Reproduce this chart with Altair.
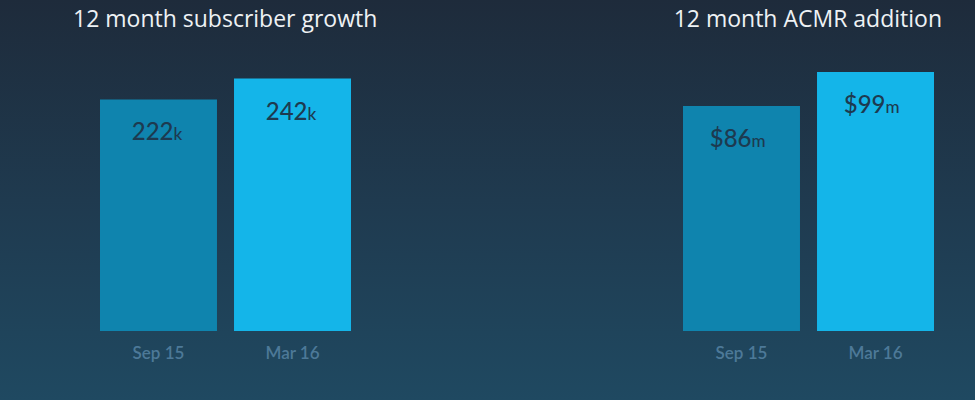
import altair as alt
import pandas as pd

# Periods and the two metrics shown for each
periods = ["Sep 15", "Mar 16"]
subscribers_k = [222, 242]
acmr_m = [86, 99]

BAR_COLORS = ["#0f84ae", "#14b5e9"]
LABEL_INK = "#1d3a50"
AXIS_INK = "#4d7998"
TITLE_INK = "#eef2f5"
FONT = "Lato"

W, H = 975, 400
BASE = 331  # pixel row where the bars sit


def panel(values, prefix, suffix, x_range, y_max, title, title_x, title_align, num_dx):
    df = pd.DataFrame({
        "period": periods,
        "value": values,
        "num": [f"{prefix}{v}" for v in values],
        "unit": [suffix] * len(values),
    })
    base = alt.Chart(df)
    x = alt.X("period:N", sort=periods, axis=None,
              scale=alt.Scale(range=x_range, paddingInner=0.127, paddingOuter=0))
    y = alt.Y("value:Q", axis=None,
              scale=alt.Scale(domain=[0, y_max], range=[BASE, 0], nice=False, zero=True))

    bars = base.mark_bar().encode(
        x=x, y=y,
        color=alt.Color("period:N", sort=periods, legend=None,
                        scale=alt.Scale(domain=periods, range=BAR_COLORS)),
    )
    nums = base.mark_text(font=FONT, fontSize=24, fontWeight=500, color=LABEL_INK,
                          align="right", baseline="alphabetic", dx=num_dx, dy=41).encode(
        x=x, y=y, text="num:N")
    units = base.mark_text(font=FONT, fontSize=17, fontWeight=500, color=LABEL_INK,
                           align="left", baseline="alphabetic", dx=num_dx, dy=41).encode(
        x=x, y=y, text="unit:N")
    ticks = base.mark_text(font=FONT, fontSize=17, fontWeight=600, color=AXIS_INK,
                           baseline="middle").encode(
        x=x, y=alt.value(354), text="period:N")
    heading = alt.Chart(pd.DataFrame({"t": [title]})).mark_text(
        font="Open Sans", fontSize=23, color=TITLE_INK, align=title_align,
        baseline="middle").encode(x=alt.value(title_x), y=alt.value(20), text="t:N")
    return alt.layer(bars, nums, units, ticks, heading)


background = alt.Chart(pd.DataFrame({"a": [0]})).mark_rect(
    color=alt.Gradient(
        gradient="linear", x1=0, x2=0, y1=0, y2=1,
        stops=[alt.GradientStop(offset=0, color="#1e2b3b"),
               alt.GradientStop(offset=0.5, color="#1f3a4f"),
               alt.GradientStop(offset=1, color="#1f4961")],
    )
).encode(x=alt.value(0), x2=alt.value(W), y=alt.value(0), y2=alt.value(H))

left = panel(subscribers_k, "", "k", [100, 351], BASE / 1.043,
             "12 month subscriber growth", 73, "left", 15)
right = panel(acmr_m, "$", "m", [683, 934], BASE / 2.615,
              "12 month ACMR addition", 942, "right", 10)

chart = alt.layer(background, left, right).resolve_scale(
    x="independent", y="independent", color="independent"
).properties(
    width=W, height=H, padding=0,
    autosize=alt.AutoSizeParams(type="none"),
    background="#1f3a4f",
).configure_view(stroke=None)

chart.save("out.html", embed_options={"renderer": "svg", "actions": False})
